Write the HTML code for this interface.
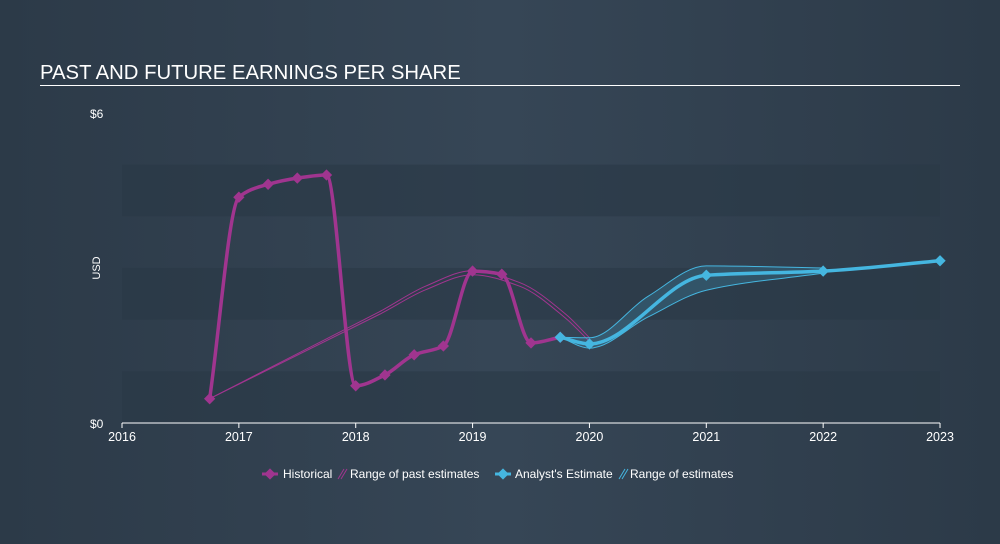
<!DOCTYPE html>
<html><head><meta charset="utf-8"><style>
body{margin:0;width:1000px;height:544px;background:linear-gradient(90deg,#2c3a48,#364656 50%,#2c3a48);font-family:"Liberation Sans",sans-serif;overflow:hidden}
</style></head><body>
<svg width="1000" height="544" style="position:absolute;left:0;top:0">
<text x="40" y="79" fill="#fff" font-size="20.3">PAST AND FUTURE EARNINGS PER SHARE</text>
<rect x="40" y="85" width="920" height="1" fill="#fff"/>
<g id="bands"></g>
<text x="90" y="118" fill="#fff" font-size="12">$6</text>
<text x="90" y="428" fill="#fff" font-size="12">$0</text>
<text x="100" y="268" fill="#fff" font-size="11" transform="rotate(-90 100 268)" text-anchor="middle">USD</text>
<line x1="122" y1="423" x2="940" y2="423" stroke="#fff" stroke-width="1"/>
<g id="xt"></g>
<g id="series"></g>
<g font-size="12" fill="#fff">
<g><line x1="262" y1="474" x2="278" y2="474" stroke="#a0358f" stroke-width="3"/><rect x="266" y="470" width="8" height="8" fill="#a0358f" transform="rotate(45 270 474)"/><text x="283" y="478">Historical</text></g>
<g><path d="M338 479 L344 469 M341 479 L347 469" stroke="#a0358f" stroke-width="1"/><text x="350" y="478">Range of past estimates</text></g>
<g><line x1="495" y1="474" x2="511" y2="474" stroke="#45b6e0" stroke-width="3"/><rect x="499" y="470" width="8" height="8" fill="#45b6e0" transform="rotate(45 503 474)"/><text x="515" y="478">Analyst's Estimate</text></g>
<g><path d="M619 479 L625 469 M622 479 L628 469" stroke="#45b6e0" stroke-width="1"/><text x="630" y="478">Range of estimates</text></g>
</g>
</svg>
<script>
const years=[2016,2017,2018,2019,2020,2021,2022,2023];
const histX=[2016.75,2017,2017.25,2017.5,2017.75,2018,2018.25,2018.5,2018.75,2019,2019.25,2019.5,2019.75];
const histY=[0.47,4.37,4.62,4.74,4.8,0.72,0.93,1.32,1.49,2.94,2.88,1.55,1.66];
const estX=[2019.75,2020,2021,2022,2023];
const estY=[1.66,1.53,2.86,2.94,3.14];
const pastRangeX=[2016.75,2018.2,2018.6,2019,2019.4,2019.8,2020];
const pastHi=[0.47,2.15,2.65,2.95,2.72,2.1,1.65];
const pastLo=[0.47,2.1,2.58,2.87,2.65,2.02,1.58];
const futX=[2019.75,2020,2020.5,2021,2022];
const futHi=[1.66,1.65,2.45,3.04,3.0];
const futLo=[1.66,1.45,2.05,2.57,2.9];
const NS="http://www.w3.org/2000/svg";
const X=v=>122+(v-2016)*116.86, Y=v=>423-v*51.67;
function mk(t,a,p){const e=document.createElementNS(NS,t);for(const k in a)e.setAttribute(k,a[k]);p.appendChild(e);return e;}
const bands=document.getElementById('bands');
[[0,1],[2,3],[4,5]].forEach(b=>{const r=mk('rect',{x:122,y:Y(b[1]),width:818,height:Y(b[0])-Y(b[1]),fill:'#2a3846',opacity:0.6},bands);

});
const xt=document.getElementById('xt');
years.forEach(y=>{const t=mk('text',{x:X(y),y:441,fill:'#fff','font-size':12.5,'text-anchor':'middle'},xt);t.textContent=y;


const l=mk('line',{x1:X(y),x2:X(y),y1:423,y2:428,stroke:'#fff'},xt);

});
// monotone cubic (Fritsch-Carlson), optional linear first segment
function mono(xs,ys,linFirst,cont){const p=xs.map((x,i)=>[X(x),Y(ys[i])]);const n=p.length;
const dk=[],m=[];for(let i=0;i<n-1;i++)dk.push((p[i+1][1]-p[i][1])/(p[i+1][0]-p[i][0]));
m[0]=dk[0];m[n-1]=dk[n-2];
for(let i=1;i<n-1;i++){if(dk[i-1]*dk[i]<=0)m[i]=0;else{const h0=p[i][0]-p[i-1][0],h1=p[i+1][0]-p[i][0];m[i]=3*(h0+h1)/((2*h1+h0)/dk[i-1]+(h1+2*h0)/dk[i]);}}
if(linFirst)m[1]=dk[0];
let d=(cont?'L':'M')+p[0][0]+' '+p[0][1];
for(let i=0;i<n-1;i++){const a=p[i],b=p[i+1],h=(b[0]-a[0])/3;
if(linFirst&&i===0){d+=` L${b[0]} ${b[1]}`;continue;}
d+=` C${a[0]+h} ${a[1]+m[i]*h} ${b[0]-h} ${b[1]-m[i+1]*h} ${b[0]} ${b[1]}`;}return d;}
const s=document.getElementById('series');
let e;
e=mk('path',{d:mono(pastRangeX,pastHi,true),fill:'none',stroke:'#a0358f','stroke-width':1},s);


e=mk('path',{d:mono(pastRangeX,pastLo,true),fill:'none',stroke:'#a0358f','stroke-width':1},s);


const lo=mono(futX.slice().reverse(),futLo.slice().reverse(),false,true);
e=mk('path',{d:mono(futX,futHi)+' '+lo+' Z',fill:'#45b6e0','fill-opacity':0.2,stroke:'#45b6e0','stroke-width':1},s);


e=mk('path',{d:mono(histX,histY),fill:'none',stroke:'#a0358f','stroke-width':3.5},s);


histX.forEach((x,i)=>{const r=mk('rect',{x:X(x)-4,y:Y(histY[i])-4,width:8,height:8,fill:'#a0358f',transform:`rotate(45 ${X(x)} ${Y(histY[i])})`},s);

});
e=mk('path',{d:mono(estX,estY),fill:'none',stroke:'#45b6e0','stroke-width':3.5},s);


estX.forEach((x,i)=>{const r=mk('rect',{x:X(x)-4,y:Y(estY[i])-4,width:8,height:8,fill:'#45b6e0',transform:`rotate(45 ${X(x)} ${Y(estY[i])})`},s);

});
</script>
</body></html>
